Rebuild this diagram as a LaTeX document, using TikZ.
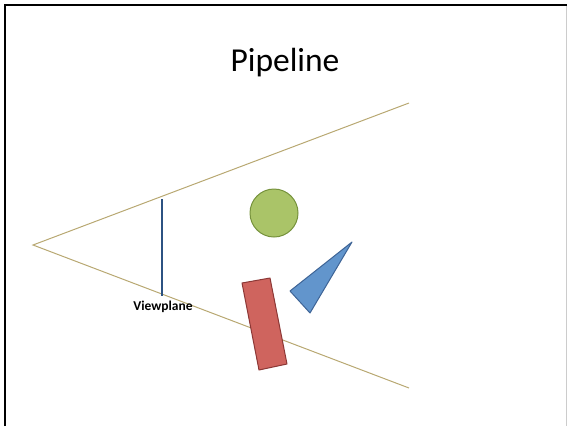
\documentclass[tikz,border=0pt]{standalone}
\usepackage{fontspec}
\setmainfont{Carlito}
\definecolor{rayline}{RGB}{184,168,114}
\definecolor{planeblue}{RGB}{44,82,130}
\definecolor{ballfill}{RGB}{170,196,104}
\definecolor{balledge}{RGB}{118,146,60}
\definecolor{trifill}{RGB}{98,149,204}
\definecolor{triedge}{RGB}{62,100,150}
\definecolor{boxfill}{RGB}{207,100,94}
\definecolor{boxedge}{RGB}{140,56,54}
\tikzset{
  ray/.style={draw=rayline, line width=1pt},
  solid shape/.style={line width=1pt, line join=round},
}
\begin{document}
\begin{tikzpicture}[x=1pt, y=-1pt]
  \useasboundingbox (0,0) rectangle (567,426);
  % slide frame
  \draw[black, line width=2.6pt] (5,426) -- (5,5) -- (567,5);
  \draw[gray!40, line width=1pt] (566,6) -- (566,426);
  % title
  \node[font=\fontsize{33.5}{40}\selectfont, anchor=base] (title) at (285,71) {Pipeline};
  % view frustum
  \coordinate (eye) at (33,245);
  \coordinate (top) at (409,103);
  \coordinate (bot) at (409,388);
  \draw[ray] (top) -- (eye) -- (bot);
  % view plane
  \coordinate (vpA) at (162,199);
  \coordinate (vpB) at (162,296);
  \draw[planeblue, line width=2pt] (vpA) -- (vpB);
  \node[font=\bfseries\fontsize{13.5}{16}\selectfont, anchor=base] (vplabel) at (163,310) {Viewplane};
  % scene objects
  \draw[solid shape, fill=ballfill, draw=balledge] (274,213) circle (24);
  \draw[solid shape, fill=trifill, draw=triedge] (352,242) -- (290,291) -- (310,313) -- cycle;
  \draw[solid shape, fill=boxfill, draw=boxedge] (242,283) -- (270,278) -- (287,364) -- (259,370) -- cycle;
\end{tikzpicture}
\end{document}
